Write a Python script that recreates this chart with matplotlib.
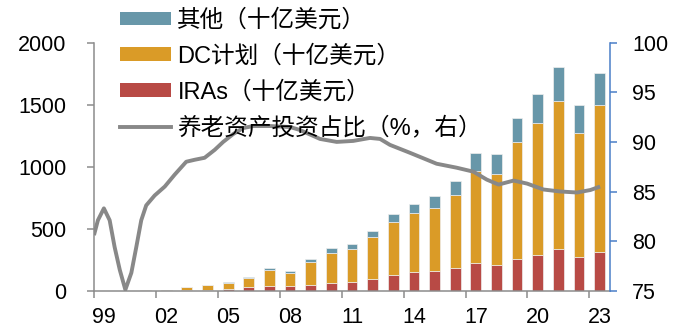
import matplotlib.pyplot as plt
from matplotlib.patches import Patch
from matplotlib.lines import Line2D

plt.rcParams['font.family'] = ['Liberation Sans', 'Noto Sans CJK SC']

# retirement assets, billion USD
years = list(range(1999, 2024))
ira = [0, 0, 0.5, 1, 3, 5, 11, 27, 40, 35, 48, 65, 73, 94, 124, 148, 161, 180,
       221, 210, 258, 290, 336, 274, 310]
dc = [0, 0, 4, 6, 26, 37, 49, 78, 129, 110, 183, 241, 263, 338, 427, 476, 509,
      592, 747, 731, 944, 1065, 1196, 995, 1185]
other = [0, 0, 1.5, 2, 3, 4, 10, 8, 17, 14, 27, 36, 41, 50, 68, 78, 94, 113,
         145, 159, 193, 231, 275, 226, 258]

# share of retirement assets invested (%), right axis
share_x = [1998.50, 1998.69, 1998.98, 1999.26, 1999.50, 1999.75, 2000.02,
           2000.31, 2000.55, 2000.79, 2001.03, 2001.44, 2001.93, 2002.41,
           2002.97, 2003.38, 2003.86, 2004.35, 2004.76, 2005.25, 2005.73,
           2006.22, 2007.03, 2008.00, 2008.48, 2009.45, 2010.26, 2011.06,
           2011.87, 2012.36, 2012.84, 2013.81, 2015.10, 2016.07, 2016.88,
           2017.53, 2018.10, 2018.83, 2019.48, 2020.28, 2021.09, 2021.90,
           2022.55, 2023.02]
share_pct = [80.6, 82.1, 83.3, 82.1, 79.4, 77.1, 75.1,
             76.8, 79.4, 82.1, 83.6, 84.6, 85.5, 86.7,
             88.0, 88.2, 88.4, 89.2, 90.0, 90.8, 91.4,
             91.6, 91.6, 91.5, 91.2, 90.3, 90.0, 90.1,
             90.4, 90.3, 89.7, 88.9, 87.8, 87.4, 87.0,
             86.2, 85.7, 86.1, 85.8, 85.2, 85.0, 84.9,
             85.15, 85.5]

x_labels = ['99', '02', '05', '08', '11', '14', '17', '20', '23']

c_ira = '#B84A45'
c_dc = '#DA9B27'
c_other = '#6897A9'
c_line = '#888888'
c_axis = '#8C8C8C'
c_right = '#4A7EC8'
fs = 15.5

fig = plt.figure(figsize=(6.83, 3.29), dpi=100)
ax = fig.add_axes([0.1376, 0.1164, 0.7555, 0.7538])

bot2 = [a + b for a, b in zip(ira, dc)]
kw = dict(width=0.52, edgecolor='#eeeeee', linewidth=0.5)
ax.bar(years, ira, color=c_ira, **kw)
ax.bar(years, dc, bottom=ira, color=c_dc, **kw)
ax.bar(years, other, bottom=bot2, color=c_other, **kw)

ax.set_xlim(1998.5, 2023.5)
ax.set_ylim(0, 2000)
ax.set_yticks(range(0, 2001, 500))

# ticks sit on year boundaries, labels centred under the bars
ax.set_xticks([y - 0.5 for y in years[::3]])
ax.set_xticklabels([])
ax.set_xticks(years[::3], minor=True)
ax.set_xticklabels(x_labels, minor=True)
ax.tick_params(axis='x', which='major', direction='out', length=5,
               width=1.1, color=c_axis)
ax.tick_params(axis='x', which='minor', length=0, pad=12, labelsize=fs)
ax.tick_params(axis='y', direction='out', length=5, width=1.1,
               color=c_axis, pad=15, labelsize=fs)

for s in ['top', 'right']:
    ax.spines[s].set_visible(False)
for s in ['left', 'bottom']:
    ax.spines[s].set_color(c_axis)
    ax.spines[s].set_linewidth(1.1)

ax2 = ax.twinx()
ax2.plot(share_x, share_pct, color=c_line, lw=2.8, solid_capstyle='butt')
ax2.set_ylim(75, 100)
ax2.set_yticks(range(75, 101, 5))
ax2.tick_params(axis='y', direction='out', length=5, width=1.1,
                color=c_right, pad=11, labelsize=fs)
for s in ['top', 'left', 'bottom']:
    ax2.spines[s].set_visible(False)
ax2.spines['right'].set_color(c_right)
ax2.spines['right'].set_linewidth(1.1)

handles = [Patch(facecolor=c_other), Patch(facecolor=c_dc),
           Patch(facecolor=c_ira), Line2D([], [], color=c_line, lw=2.8)]
labels = ['其他（十亿美元）', 'DC计划（十亿美元）', 'IRAs（十亿美元）',
          '养老资产投资占比（%，右）']
fig.legend(handles, labels, loc='center left',
           bbox_to_anchor=(120 / 683, 1 - 74.5 / 329), frameon=False,
           fontsize=17, handlelength=2.15, handleheight=0.52,
           handletextpad=0.28, labelspacing=0.56, borderpad=0,
           borderaxespad=0)

fig.savefig('out.png', dpi=100)
